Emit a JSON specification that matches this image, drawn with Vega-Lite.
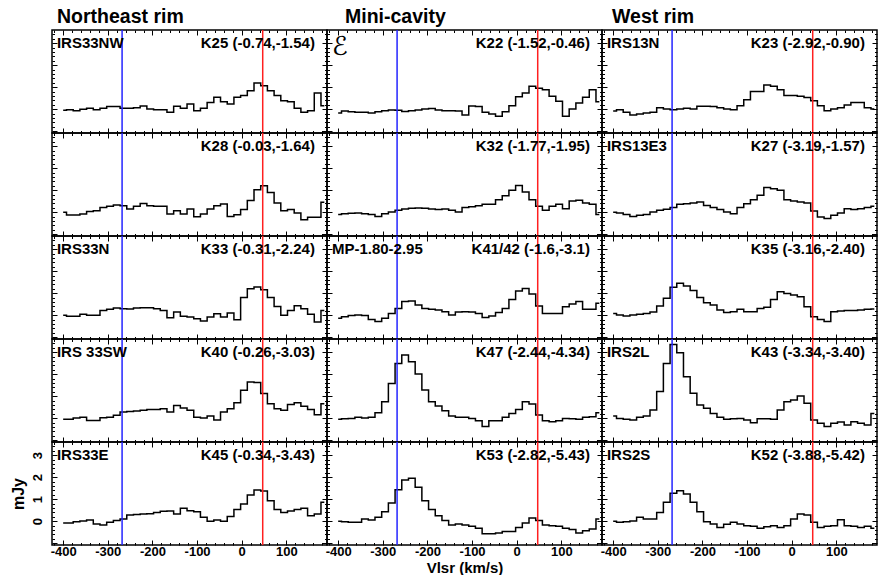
{
"$schema": "https://vega.github.io/schema/vega-lite/v6.json",
"background": "white",
"padding": {"left": 9, "top": 6, "right": 5, "bottom": 0},
"config": {
 "font": "Liberation Sans",
 "view": {"stroke": "black", "strokeWidth": 1.5},
 "axis": {"domain": false, "grid": false, "tickColor": "black", "tickWidth": 1, "labelFont": "Liberation Sans", "labelFontWeight": "bold", "labelFontSize": 13, "labelColor": "black", "titleFont": "Liberation Sans", "titleFontWeight": "bold", "titleFontSize": 15, "titleColor": "black", "labelOverlap": false, "labelFlush": false, "labelBound": false},
 "title": {"font": "Liberation Sans", "fontSize": 19.5, "fontWeight": "bold", "color": "black", "anchor": "start", "frame": "group", "baseline": "alphabetic", "offset": 2},
 "text": {"font": "Liberation Sans", "fontSize": 15, "fontWeight": "bold", "color": "black", "baseline": "alphabetic"}
},
"datasets": {"sp": [
{"p":"K25","v":-400,"f":-0.05},{"p":"K25","v":-385,"f":-0.02},{"p":"K25","v":-370,"f":-0.07},{"p":"K25","v":-355,"f":0},{"p":"K25","v":-340,"f":0.04},{"p":"K25","v":-325,"f":-0.02},{"p":"K25","v":-310,"f":0.04},{"p":"K25","v":-295,"f":0.12},{"p":"K25","v":-280,"f":0.12},{"p":"K25","v":-265,"f":0.04},
{"p":"K25","v":-250,"f":0.04},{"p":"K25","v":-235,"f":0.07},{"p":"K25","v":-220,"f":0.15},{"p":"K25","v":-205,"f":0.01},{"p":"K25","v":-190,"f":-0.02},{"p":"K25","v":-175,"f":-0.02},{"p":"K25","v":-160,"f":-0.14},{"p":"K25","v":-145,"f":0.13},{"p":"K25","v":-130,"f":0.04},{"p":"K25","v":-115,"f":0.24},
{"p":"K25","v":-100,"f":-0.07},{"p":"K25","v":-85,"f":0.04},{"p":"K25","v":-70,"f":0.31},{"p":"K25","v":-55,"f":0.54},{"p":"K25","v":-40,"f":0.34},{"p":"K25","v":-25,"f":0.24},{"p":"K25","v":-10,"f":0.54},{"p":"K25","v":5,"f":0.62},{"p":"K25","v":20,"f":0.84},{"p":"K25","v":35,"f":1.19},
{"p":"K25","v":50,"f":1.07},{"p":"K25","v":65,"f":0.84},{"p":"K25","v":80,"f":0.62},{"p":"K25","v":95,"f":0.39},{"p":"K25","v":110,"f":0.34},{"p":"K25","v":125,"f":0.04},{"p":"K25","v":140,"f":-0.14},{"p":"K25","v":155,"f":-0.07},{"p":"K25","v":170,"f":0.74},{"p":"K25","v":185,"f":0.16},
{"p":"K28","v":-400,"f":0},{"p":"K28","v":-385,"f":-0.13},{"p":"K28","v":-370,"f":-0.13},{"p":"K28","v":-355,"f":-0.08},{"p":"K28","v":-340,"f":0.03},{"p":"K28","v":-325,"f":0.07},{"p":"K28","v":-310,"f":0.22},{"p":"K28","v":-295,"f":0.27},{"p":"K28","v":-280,"f":0.33},{"p":"K28","v":-265,"f":0.3},
{"p":"K28","v":-250,"f":0.15},{"p":"K28","v":-235,"f":0.27},{"p":"K28","v":-220,"f":0.4},{"p":"K28","v":-205,"f":0.3},{"p":"K28","v":-190,"f":0.27},{"p":"K28","v":-175,"f":0.27},{"p":"K28","v":-160,"f":-0.08},{"p":"K28","v":-145,"f":0.07},{"p":"K28","v":-130,"f":-0.08},{"p":"K28","v":-115,"f":0.15},
{"p":"K28","v":-100,"f":-0.2},{"p":"K28","v":-85,"f":-0.08},{"p":"K28","v":-70,"f":0.15},{"p":"K28","v":-55,"f":0.3},{"p":"K28","v":-40,"f":0.37},{"p":"K28","v":-25,"f":-0.19},{"p":"K28","v":-10,"f":-0.11},{"p":"K28","v":5,"f":0.12},{"p":"K28","v":20,"f":0.53},{"p":"K28","v":35,"f":1.02},
{"p":"K28","v":50,"f":1.2},{"p":"K28","v":65,"f":0.9},{"p":"K28","v":80,"f":0.42},{"p":"K28","v":95,"f":0.07},{"p":"K28","v":110,"f":0.12},{"p":"K28","v":125,"f":-0.03},{"p":"K28","v":140,"f":-0.34},{"p":"K28","v":155,"f":-0.23},{"p":"K28","v":170,"f":-0.23},{"p":"K28","v":185,"f":0.45},
{"p":"K33","v":-400,"f":0},{"p":"K33","v":-385,"f":-0.05},{"p":"K33","v":-370,"f":-0.05},{"p":"K33","v":-355,"f":0.04},{"p":"K33","v":-340,"f":0},{"p":"K33","v":-325,"f":0},{"p":"K33","v":-310,"f":0.22},{"p":"K33","v":-295,"f":0.27},{"p":"K33","v":-280,"f":0.33},{"p":"K33","v":-265,"f":0.3},
{"p":"K33","v":-250,"f":0.28},{"p":"K33","v":-235,"f":0.33},{"p":"K33","v":-220,"f":0.34},{"p":"K33","v":-205,"f":0.34},{"p":"K33","v":-190,"f":0.3},{"p":"K33","v":-175,"f":0.22},{"p":"K33","v":-160,"f":-0.11},{"p":"K33","v":-145,"f":0.15},{"p":"K33","v":-130,"f":-0.05},{"p":"K33","v":-115,"f":-0.08},
{"p":"K33","v":-100,"f":-0.16},{"p":"K33","v":-85,"f":-0.26},{"p":"K33","v":-70,"f":-0.08},{"p":"K33","v":-55,"f":0.07},{"p":"K33","v":-40,"f":-0.08},{"p":"K33","v":-25,"f":0.1},{"p":"K33","v":-10,"f":-0.2},{"p":"K33","v":5,"f":0.8},{"p":"K33","v":20,"f":1.2},{"p":"K33","v":35,"f":1.28},
{"p":"K33","v":50,"f":1.16},{"p":"K33","v":65,"f":0.8},{"p":"K33","v":80,"f":0.4},{"p":"K33","v":95,"f":0},{"p":"K33","v":110,"f":0.22},{"p":"K33","v":125,"f":0.43},{"p":"K33","v":140,"f":0.3},{"p":"K33","v":155,"f":0.04},{"p":"K33","v":170,"f":-0.31},{"p":"K33","v":185,"f":0.22},
{"p":"K40","v":-400,"f":-0.05},{"p":"K40","v":-385,"f":-0.05},{"p":"K40","v":-370,"f":0.01},{"p":"K40","v":-355,"f":0.04},{"p":"K40","v":-340,"f":-0.1},{"p":"K40","v":-325,"f":-0.1},{"p":"K40","v":-310,"f":0.02},{"p":"K40","v":-295,"f":0.05},{"p":"K40","v":-280,"f":0.13},{"p":"K40","v":-265,"f":0.28},
{"p":"K40","v":-250,"f":0.31},{"p":"K40","v":-235,"f":0.33},{"p":"K40","v":-220,"f":0.36},{"p":"K40","v":-205,"f":0.4},{"p":"K40","v":-190,"f":0.4},{"p":"K40","v":-175,"f":0.43},{"p":"K40","v":-160,"f":0.28},{"p":"K40","v":-145,"f":0.58},{"p":"K40","v":-130,"f":0.46},{"p":"K40","v":-115,"f":0.36},
{"p":"K40","v":-100,"f":0.05},{"p":"K40","v":-85,"f":0.01},{"p":"K40","v":-70,"f":0.1},{"p":"K40","v":-55,"f":-0.08},{"p":"K40","v":-40,"f":0.28},{"p":"K40","v":-25,"f":0.43},{"p":"K40","v":-10,"f":0.7},{"p":"K40","v":5,"f":1.27},{"p":"K40","v":20,"f":1.65},{"p":"K40","v":35,"f":1.62},
{"p":"K40","v":50,"f":1.12},{"p":"K40","v":65,"f":0.66},{"p":"K40","v":80,"f":0.43},{"p":"K40","v":95,"f":0.36},{"p":"K40","v":110,"f":0.62},{"p":"K40","v":125,"f":0.7},{"p":"K40","v":140,"f":0.55},{"p":"K40","v":155,"f":0.4},{"p":"K40","v":170,"f":0.16},{"p":"K40","v":185,"f":0.66},
{"p":"K45","v":-400,"f":-0.08},{"p":"K45","v":-385,"f":-0.08},{"p":"K45","v":-370,"f":-0.02},{"p":"K45","v":-355,"f":0.01},{"p":"K45","v":-340,"f":0.06},{"p":"K45","v":-325,"f":-0.13},{"p":"K45","v":-310,"f":-0.17},{"p":"K45","v":-295,"f":-0.05},{"p":"K45","v":-280,"f":0.03},{"p":"K45","v":-265,"f":0.1},
{"p":"K45","v":-250,"f":0.28},{"p":"K45","v":-235,"f":0.31},{"p":"K45","v":-220,"f":0.33},{"p":"K45","v":-205,"f":0.34},{"p":"K45","v":-190,"f":0.4},{"p":"K45","v":-175,"f":0.45},{"p":"K45","v":-160,"f":0.47},{"p":"K45","v":-145,"f":0.33},{"p":"K45","v":-130,"f":0.59},{"p":"K45","v":-115,"f":0.48},
{"p":"K45","v":-100,"f":0.43},{"p":"K45","v":-85,"f":0.18},{"p":"K45","v":-70,"f":0},{"p":"K45","v":-55,"f":0.06},{"p":"K45","v":-40,"f":0},{"p":"K45","v":-25,"f":0.21},{"p":"K45","v":-10,"f":0.53},{"p":"K45","v":5,"f":0.78},{"p":"K45","v":20,"f":1.19},{"p":"K45","v":35,"f":1.42},
{"p":"K45","v":50,"f":1.37},{"p":"K45","v":65,"f":0.93},{"p":"K45","v":80,"f":0.53},{"p":"K45","v":95,"f":0.4},{"p":"K45","v":110,"f":0.47},{"p":"K45","v":125,"f":0.53},{"p":"K45","v":140,"f":0.59},{"p":"K45","v":155,"f":0.25},{"p":"K45","v":170,"f":0.33},{"p":"K45","v":185,"f":0.86},
{"p":"K22","v":-400,"f":-0.17},{"p":"K22","v":-385,"f":-0.08},{"p":"K22","v":-370,"f":-0.11},{"p":"K22","v":-355,"f":-0.14},{"p":"K22","v":-340,"f":-0.14},{"p":"K22","v":-325,"f":-0.17},{"p":"K22","v":-310,"f":-0.11},{"p":"K22","v":-295,"f":-0.07},{"p":"K22","v":-280,"f":-0.03},{"p":"K22","v":-265,"f":-0.05},
{"p":"K22","v":-250,"f":-0.1},{"p":"K22","v":-235,"f":-0.07},{"p":"K22","v":-220,"f":-0.03},{"p":"K22","v":-205,"f":0.01},{"p":"K22","v":-190,"f":0.03},{"p":"K22","v":-175,"f":-0.03},{"p":"K22","v":-160,"f":-0.07},{"p":"K22","v":-145,"f":-0.07},{"p":"K22","v":-130,"f":-0.08},{"p":"K22","v":-115,"f":-0.26},
{"p":"K22","v":-100,"f":0.15},{"p":"K22","v":-85,"f":0.12},{"p":"K22","v":-70,"f":-0.14},{"p":"K22","v":-55,"f":-0.22},{"p":"K22","v":-40,"f":-0.32},{"p":"K22","v":-25,"f":-0.11},{"p":"K22","v":-10,"f":0.16},{"p":"K22","v":5,"f":0.57},{"p":"K22","v":20,"f":0.74},{"p":"K22","v":35,"f":1.04},
{"p":"K22","v":50,"f":0.95},{"p":"K22","v":65,"f":0.89},{"p":"K22","v":80,"f":0.59},{"p":"K22","v":95,"f":0.36},{"p":"K22","v":110,"f":-0.32},{"p":"K22","v":125,"f":0.01},{"p":"K22","v":140,"f":0.28},{"p":"K22","v":155,"f":0.54},{"p":"K22","v":170,"f":0.89},{"p":"K22","v":185,"f":0.34},
{"p":"K32","v":-400,"f":-0.1},{"p":"K32","v":-385,"f":-0.07},{"p":"K32","v":-370,"f":-0.05},{"p":"K32","v":-355,"f":-0.03},{"p":"K32","v":-340,"f":-0.07},{"p":"K32","v":-325,"f":-0.1},{"p":"K32","v":-310,"f":-0.19},{"p":"K32","v":-295,"f":-0.07},{"p":"K32","v":-280,"f":0.01},{"p":"K32","v":-265,"f":0.09},
{"p":"K32","v":-250,"f":0.15},{"p":"K32","v":-235,"f":0.18},{"p":"K32","v":-220,"f":0.19},{"p":"K32","v":-205,"f":0.18},{"p":"K32","v":-190,"f":0.15},{"p":"K32","v":-175,"f":0.12},{"p":"K32","v":-160,"f":0.15},{"p":"K32","v":-145,"f":0.09},{"p":"K32","v":-130,"f":0.01},{"p":"K32","v":-115,"f":0.21},
{"p":"K32","v":-100,"f":0.25},{"p":"K32","v":-85,"f":0.3},{"p":"K32","v":-70,"f":0.36},{"p":"K32","v":-55,"f":0.36},{"p":"K32","v":-40,"f":0.57},{"p":"K32","v":-25,"f":0.75},{"p":"K32","v":-10,"f":1.0},{"p":"K32","v":5,"f":1.21},{"p":"K32","v":20,"f":0.92},{"p":"K32","v":35,"f":0.57},
{"p":"K32","v":50,"f":0.27},{"p":"K32","v":65,"f":0.09},{"p":"K32","v":80,"f":0.27},{"p":"K32","v":95,"f":0.36},{"p":"K32","v":110,"f":0.16},{"p":"K32","v":125,"f":0.51},{"p":"K32","v":140,"f":0.54},{"p":"K32","v":155,"f":0.42},{"p":"K32","v":170,"f":0.36},{"p":"K32","v":185,"f":-0.1},
{"p":"K41","v":-400,"f":-0.14},{"p":"K41","v":-385,"f":-0.07},{"p":"K41","v":-370,"f":-0.01},{"p":"K41","v":-355,"f":0.01},{"p":"K41","v":-340,"f":-0.01},{"p":"K41","v":-325,"f":-0.19},{"p":"K41","v":-310,"f":-0.29},{"p":"K41","v":-295,"f":-0.14},{"p":"K41","v":-280,"f":0.08},{"p":"K41","v":-265,"f":0.31},
{"p":"K41","v":-250,"f":0.62},{"p":"K41","v":-235,"f":0.65},{"p":"K41","v":-220,"f":0.46},{"p":"K41","v":-205,"f":0.31},{"p":"K41","v":-190,"f":0.27},{"p":"K41","v":-175,"f":0.24},{"p":"K41","v":-160,"f":0.16},{"p":"K41","v":-145,"f":0.01},{"p":"K41","v":-130,"f":0.15},{"p":"K41","v":-115,"f":0.16},
{"p":"K41","v":-100,"f":0.15},{"p":"K41","v":-85,"f":0.08},{"p":"K41","v":-70,"f":-0.1},{"p":"K41","v":-55,"f":-0.04},{"p":"K41","v":-40,"f":0.12},{"p":"K41","v":-25,"f":0.31},{"p":"K41","v":-10,"f":0.72},{"p":"K41","v":5,"f":1.1},{"p":"K41","v":20,"f":1.21},{"p":"K41","v":35,"f":0.96},
{"p":"K41","v":50,"f":0.42},{"p":"K41","v":65,"f":0.08},{"p":"K41","v":80,"f":0.08},{"p":"K41","v":95,"f":0.08},{"p":"K41","v":110,"f":0.39},{"p":"K41","v":125,"f":0.51},{"p":"K41","v":140,"f":0.62},{"p":"K41","v":155,"f":0.27},{"p":"K41","v":170,"f":0.27},{"p":"K41","v":185,"f":0.54},
{"p":"K47","v":-400,"f":-0.05},{"p":"K47","v":-385,"f":-0.02},{"p":"K47","v":-370,"f":-0.01},{"p":"K47","v":-355,"f":0.04},{"p":"K47","v":-340,"f":0.01},{"p":"K47","v":-325,"f":0.04},{"p":"K47","v":-310,"f":0.25},{"p":"K47","v":-295,"f":0.75},{"p":"K47","v":-280,"f":1.58},{"p":"K47","v":-265,"f":2.49},
{"p":"K47","v":-250,"f":2.87},{"p":"K47","v":-235,"f":2.57},{"p":"K47","v":-220,"f":2.01},{"p":"K47","v":-205,"f":1.28},{"p":"K47","v":-190,"f":0.75},{"p":"K47","v":-175,"f":0.56},{"p":"K47","v":-160,"f":0.34},{"p":"K47","v":-145,"f":0.1},{"p":"K47","v":-130,"f":0.04},{"p":"K47","v":-115,"f":0.04},
{"p":"K47","v":-100,"f":-0.01},{"p":"K47","v":-85,"f":-0.11},{"p":"K47","v":-70,"f":-0.38},{"p":"K47","v":-55,"f":-0.11},{"p":"K47","v":-40,"f":-0.11},{"p":"K47","v":-25,"f":0.04},{"p":"K47","v":-10,"f":0.22},{"p":"K47","v":5,"f":0.4},{"p":"K47","v":20,"f":0.75},{"p":"K47","v":35,"f":0.65},
{"p":"K47","v":50,"f":0.15},{"p":"K47","v":65,"f":-0.11},{"p":"K47","v":80,"f":-0.16},{"p":"K47","v":95,"f":-0.11},{"p":"K47","v":110,"f":-0.01},{"p":"K47","v":125,"f":-0.02},{"p":"K47","v":140,"f":-0.05},{"p":"K47","v":155,"f":0.04},{"p":"K47","v":170,"f":0.07},{"p":"K47","v":185,"f":0.25},
{"p":"K53","v":-400,"f":0},{"p":"K53","v":-385,"f":-0.02},{"p":"K53","v":-370,"f":-0.05},{"p":"K53","v":-355,"f":-0.05},{"p":"K53","v":-340,"f":0.1},{"p":"K53","v":-325,"f":0.06},{"p":"K53","v":-310,"f":0.18},{"p":"K53","v":-295,"f":0.43},{"p":"K53","v":-280,"f":0.83},{"p":"K53","v":-265,"f":1.43},
{"p":"K53","v":-250,"f":1.87},{"p":"K53","v":-235,"f":1.95},{"p":"K53","v":-220,"f":1.54},{"p":"K53","v":-205,"f":0.93},{"p":"K53","v":-190,"f":0.53},{"p":"K53","v":-175,"f":0.25},{"p":"K53","v":-160,"f":0.03},{"p":"K53","v":-145,"f":-0.17},{"p":"K53","v":-130,"f":-0.13},{"p":"K53","v":-115,"f":-0.17},
{"p":"K53","v":-100,"f":-0.23},{"p":"K53","v":-85,"f":-0.32},{"p":"K53","v":-70,"f":-0.57},{"p":"K53","v":-55,"f":-0.57},{"p":"K53","v":-40,"f":-0.53},{"p":"K53","v":-25,"f":-0.47},{"p":"K53","v":-10,"f":-0.47},{"p":"K53","v":5,"f":-0.28},{"p":"K53","v":20,"f":-0.08},{"p":"K53","v":35,"f":0.15},
{"p":"K53","v":50,"f":0.03},{"p":"K53","v":65,"f":-0.17},{"p":"K53","v":80,"f":-0.2},{"p":"K53","v":95,"f":-0.23},{"p":"K53","v":110,"f":-0.32},{"p":"K53","v":125,"f":-0.38},{"p":"K53","v":140,"f":-0.53},{"p":"K53","v":155,"f":-0.43},{"p":"K53","v":170,"f":-0.35},{"p":"K53","v":185,"f":0.1},
{"p":"K23","v":-400,"f":-0.08},{"p":"K23","v":-385,"f":-0.02},{"p":"K23","v":-370,"f":-0.14},{"p":"K23","v":-355,"f":-0.26},{"p":"K23","v":-340,"f":-0.22},{"p":"K23","v":-325,"f":-0.17},{"p":"K23","v":-310,"f":-0.14},{"p":"K23","v":-295,"f":0.07},{"p":"K23","v":-280,"f":0.01},{"p":"K23","v":-265,"f":-0.02},
{"p":"K23","v":-250,"f":0.01},{"p":"K23","v":-235,"f":0.04},{"p":"K23","v":-220,"f":0.01},{"p":"K23","v":-205,"f":0.13},{"p":"K23","v":-190,"f":0.13},{"p":"K23","v":-175,"f":0.12},{"p":"K23","v":-160,"f":0.07},{"p":"K23","v":-145,"f":0.01},{"p":"K23","v":-130,"f":-0.02},{"p":"K23","v":-115,"f":0.16},
{"p":"K23","v":-100,"f":0.43},{"p":"K23","v":-85,"f":0.8},{"p":"K23","v":-70,"f":0.8},{"p":"K23","v":-55,"f":1.1},{"p":"K23","v":-40,"f":1.04},{"p":"K23","v":-25,"f":0.89},{"p":"K23","v":-10,"f":0.62},{"p":"K23","v":5,"f":0.62},{"p":"K23","v":20,"f":0.59},{"p":"K23","v":35,"f":0.53},
{"p":"K23","v":50,"f":0.39},{"p":"K23","v":65,"f":0.16},{"p":"K23","v":80,"f":-0.07},{"p":"K23","v":95,"f":0.01},{"p":"K23","v":110,"f":0.07},{"p":"K23","v":125,"f":0.19},{"p":"K23","v":140,"f":0.31},{"p":"K23","v":155,"f":0.31},{"p":"K23","v":170,"f":0.07},{"p":"K23","v":185,"f":0.01},
{"p":"K27","v":-400,"f":0},{"p":"K27","v":-385,"f":-0.03},{"p":"K27","v":-370,"f":-0.1},{"p":"K27","v":-355,"f":-0.19},{"p":"K27","v":-340,"f":-0.14},{"p":"K27","v":-325,"f":-0.1},{"p":"K27","v":-310,"f":0.01},{"p":"K27","v":-295,"f":0.09},{"p":"K27","v":-280,"f":0.13},{"p":"K27","v":-265,"f":0.21},
{"p":"K27","v":-250,"f":0.36},{"p":"K27","v":-235,"f":0.39},{"p":"K27","v":-220,"f":0.42},{"p":"K27","v":-205,"f":0.47},{"p":"K27","v":-190,"f":0.31},{"p":"K27","v":-175,"f":0.21},{"p":"K27","v":-160,"f":0.12},{"p":"K27","v":-145,"f":0.01},{"p":"K27","v":-130,"f":-0.07},{"p":"K27","v":-115,"f":0.21},
{"p":"K27","v":-100,"f":0.39},{"p":"K27","v":-85,"f":0.57},{"p":"K27","v":-70,"f":0.77},{"p":"K27","v":-55,"f":1.12},{"p":"K27","v":-40,"f":1.07},{"p":"K27","v":-25,"f":1.0},{"p":"K27","v":-10,"f":0.57},{"p":"K27","v":5,"f":0.51},{"p":"K27","v":20,"f":0.47},{"p":"K27","v":35,"f":0.42},
{"p":"K27","v":50,"f":0.06},{"p":"K27","v":65,"f":-0.22},{"p":"K27","v":80,"f":-0.29},{"p":"K27","v":95,"f":-0.14},{"p":"K27","v":110,"f":-0.03},{"p":"K27","v":125,"f":0.16},{"p":"K27","v":140,"f":0.12},{"p":"K27","v":155,"f":0.16},{"p":"K27","v":170,"f":0.21},{"p":"K27","v":185,"f":0.27},
{"p":"K35","v":-400,"f":0.08},{"p":"K35","v":-385,"f":0.01},{"p":"K35","v":-370,"f":-0.04},{"p":"K35","v":-355,"f":0.01},{"p":"K35","v":-340,"f":0.04},{"p":"K35","v":-325,"f":0.08},{"p":"K35","v":-310,"f":0.15},{"p":"K35","v":-295,"f":0.42},{"p":"K35","v":-280,"f":0.77},{"p":"K35","v":-265,"f":1.27},
{"p":"K35","v":-250,"f":1.45},{"p":"K35","v":-235,"f":1.33},{"p":"K35","v":-220,"f":1.12},{"p":"K35","v":-205,"f":0.81},{"p":"K35","v":-190,"f":0.57},{"p":"K35","v":-175,"f":0.46},{"p":"K35","v":-160,"f":0.24},{"p":"K35","v":-145,"f":0.12},{"p":"K35","v":-130,"f":0.16},{"p":"K35","v":-115,"f":0.27},
{"p":"K35","v":-100,"f":0.16},{"p":"K35","v":-85,"f":0.16},{"p":"K35","v":-70,"f":0.31},{"p":"K35","v":-55,"f":0.36},{"p":"K35","v":-40,"f":0.72},{"p":"K35","v":-25,"f":1.07},{"p":"K35","v":-10,"f":0.99},{"p":"K35","v":5,"f":0.92},{"p":"K35","v":20,"f":0.84},{"p":"K35","v":35,"f":0.39},
{"p":"K35","v":50,"f":-0.07},{"p":"K35","v":65,"f":-0.19},{"p":"K35","v":80,"f":-0.29},{"p":"K35","v":95,"f":0.16},{"p":"K35","v":110,"f":0.19},{"p":"K35","v":125,"f":0.21},{"p":"K35","v":140,"f":0.22},{"p":"K35","v":155,"f":0.24},{"p":"K35","v":170,"f":0.27},{"p":"K35","v":185,"f":0.28},
{"p":"K43","v":-400,"f":0.1},{"p":"K43","v":-385,"f":-0.01},{"p":"K43","v":-370,"f":-0.05},{"p":"K43","v":-355,"f":-0.08},{"p":"K43","v":-340,"f":0.04},{"p":"K43","v":-325,"f":0.1},{"p":"K43","v":-310,"f":0.37},{"p":"K43","v":-295,"f":1.21},{"p":"K43","v":-280,"f":2.49},{"p":"K43","v":-265,"f":3.35},
{"p":"K43","v":-250,"f":2.98},{"p":"K43","v":-235,"f":1.89},{"p":"K43","v":-220,"f":1.13},{"p":"K43","v":-205,"f":0.6},{"p":"K43","v":-190,"f":0.45},{"p":"K43","v":-175,"f":0.22},{"p":"K43","v":-160,"f":0.04},{"p":"K43","v":-145,"f":-0.05},{"p":"K43","v":-130,"f":-0.02},{"p":"K43","v":-115,"f":-0.01},
{"p":"K43","v":-100,"f":-0.08},{"p":"K43","v":-85,"f":-0.2},{"p":"K43","v":-70,"f":-0.02},{"p":"K43","v":-55,"f":-0.02},{"p":"K43","v":-40,"f":-0.05},{"p":"K43","v":-25,"f":0.37},{"p":"K43","v":-10,"f":0.75},{"p":"K43","v":5,"f":0.83},{"p":"K43","v":20,"f":1.01},{"p":"K43","v":35,"f":0.68},
{"p":"K43","v":50,"f":-0.08},{"p":"K43","v":65,"f":-0.23},{"p":"K43","v":80,"f":-0.38},{"p":"K43","v":95,"f":-0.23},{"p":"K43","v":110,"f":-0.17},{"p":"K43","v":125,"f":-0.31},{"p":"K43","v":140,"f":-0.16},{"p":"K43","v":155,"f":-0.23},{"p":"K43","v":170,"f":-0.31},{"p":"K43","v":185,"f":0.22},
{"p":"K52","v":-400,"f":0},{"p":"K52","v":-385,"f":-0.05},{"p":"K52","v":-370,"f":-0.02},{"p":"K52","v":-355,"f":0.01},{"p":"K52","v":-340,"f":0.18},{"p":"K52","v":-325,"f":0.1},{"p":"K52","v":-310,"f":0.1},{"p":"K52","v":-295,"f":0.4},{"p":"K52","v":-280,"f":0.86},{"p":"K52","v":-265,"f":1.27},
{"p":"K52","v":-250,"f":1.39},{"p":"K52","v":-235,"f":1.24},{"p":"K52","v":-220,"f":0.86},{"p":"K52","v":-205,"f":0.43},{"p":"K52","v":-190,"f":-0.02},{"p":"K52","v":-175,"f":-0.13},{"p":"K52","v":-160,"f":-0.28},{"p":"K52","v":-145,"f":-0.14},{"p":"K52","v":-130,"f":-0.05},{"p":"K52","v":-115,"f":-0.13},
{"p":"K52","v":-100,"f":-0.2},{"p":"K52","v":-85,"f":-0.23},{"p":"K52","v":-70,"f":-0.32},{"p":"K52","v":-55,"f":-0.25},{"p":"K52","v":-40,"f":-0.2},{"p":"K52","v":-25,"f":-0.29},{"p":"K52","v":-10,"f":-0.2},{"p":"K52","v":5,"f":0.1},{"p":"K52","v":20,"f":0.33},{"p":"K52","v":35,"f":0.28},
{"p":"K52","v":50,"f":-0.05},{"p":"K52","v":65,"f":-0.28},{"p":"K52","v":80,"f":-0.23},{"p":"K52","v":95,"f":-0.2},{"p":"K52","v":110,"f":0.07},{"p":"K52","v":125,"f":-0.2},{"p":"K52","v":140,"f":-0.23},{"p":"K52","v":155,"f":-0.28},{"p":"K52","v":170,"f":-0.23},{"p":"K52","v":185,"f":-0.32}
]},
"columns": 3,
"spacing": 0,
"bounds": "flush",
"concat": [
 {"width": 275, "height": 103, "title": {"text": "Northeast rim", "dx": 5}, "resolve": {"axis": {"x": "independent", "y": "independent"}}, "layer": [
  {"data": {"name": "sp"}, "transform": [{"filter": "datum.p === 'K25'"}], "mark": {"type": "line", "interpolate": "step", "color": "black", "strokeWidth": 1.5, "clip": true}, "encoding": {"x": {"field": "v", "type": "quantitative", "scale": {"domain": [-425, 191], "nice": false, "zero": false}, "axis": {"orient": "bottom", "values": [-420,-400,-380,-360,-340,-320,-300,-280,-260,-240,-220,-200,-180,-160,-140,-120,-100,-80,-60,-40,-20,0,20,40,60,80,100,120,140,160,180], "labels": false, "title": null, "tickSize": {"condition": {"test": "datum.value % 100 === 0", "value": -5}, "value": -2.5}}}, "y": {"field": "f", "type": "quantitative", "scale": {"domain": [-1.08, 3.6], "nice": false, "zero": false}, "axis": {"orient": "left", "values": [-1,-0.8,-0.6,-0.4,-0.2,0,0.2,0.4,0.6,0.8,1,1.2,1.4,1.6,1.8,2,2.2,2.4,2.6,2.8,3,3.2,3.4], "labels": false, "title": null, "tickSize": {"condition": {"test": "abs(datum.value - round(datum.value)) < 0.01", "value": -5}, "value": -2.5}}}}},
  {"data": {"values": [{}]}, "mark": {"type": "rule", "color": "#2424ff", "strokeWidth": 1.5}, "encoding": {"x": {"datum": -268, "axis": null}}},
  {"data": {"values": [{}]}, "mark": {"type": "rule", "color": "#ff1f1f", "strokeWidth": 1.5}, "encoding": {"x": {"datum": 47, "axis": null}}},
  {"data": {"values": [{}]}, "mark": {"type": "text", "align": "right"}, "encoding": {"x": {"datum": 164, "axis": {"orient": "top", "values": [-420,-400,-380,-360,-340,-320,-300,-280,-260,-240,-220,-200,-180,-160,-140,-120,-100,-80,-60,-40,-20,0,20,40,60,80,100,120,140,160,180], "labels": false, "title": null, "tickSize": {"condition": {"test": "datum.value % 100 === 0", "value": -5}, "value": -2.5}}}, "y": {"datum": 2.8, "axis": {"orient": "right", "values": [-1,-0.8,-0.6,-0.4,-0.2,0,0.2,0.4,0.6,0.8,1,1.2,1.4,1.6,1.8,2,2.2,2.4,2.6,2.8,3,3.2,3.4], "labels": false, "title": null, "tickSize": {"condition": {"test": "abs(datum.value - round(datum.value)) < 0.01", "value": -5}, "value": -2.5}}}, "text": {"value": "K25 (-0.74,-1.54)"}}},
  {"data": {"values": [{}]}, "mark": {"type": "text", "align": "left"}, "encoding": {"x": {"datum": -414, "axis": null}, "y": {"datum": 2.8, "axis": null}, "text": {"value": "IRS33NW"}}}
 ]},
 {"width": 275, "height": 103, "title": {"text": "Mini-cavity", "dx": 18}, "resolve": {"axis": {"x": "independent", "y": "independent"}}, "layer": [
  {"data": {"name": "sp"}, "transform": [{"filter": "datum.p === 'K22'"}], "mark": {"type": "line", "interpolate": "step", "color": "black", "strokeWidth": 1.5, "clip": true}, "encoding": {"x": {"field": "v", "type": "quantitative", "scale": {"domain": [-425, 191], "nice": false, "zero": false}, "axis": {"orient": "bottom", "values": [-420,-400,-380,-360,-340,-320,-300,-280,-260,-240,-220,-200,-180,-160,-140,-120,-100,-80,-60,-40,-20,0,20,40,60,80,100,120,140,160,180], "labels": false, "title": null, "tickSize": {"condition": {"test": "datum.value % 100 === 0", "value": -5}, "value": -2.5}}}, "y": {"field": "f", "type": "quantitative", "scale": {"domain": [-1.08, 3.6], "nice": false, "zero": false}, "axis": {"orient": "left", "values": [-1,-0.8,-0.6,-0.4,-0.2,0,0.2,0.4,0.6,0.8,1,1.2,1.4,1.6,1.8,2,2.2,2.4,2.6,2.8,3,3.2,3.4], "labels": false, "title": null, "tickSize": {"condition": {"test": "abs(datum.value - round(datum.value)) < 0.01", "value": -5}, "value": -2.5}}}}},
  {"data": {"values": [{}]}, "mark": {"type": "rule", "color": "#2424ff", "strokeWidth": 1.5}, "encoding": {"x": {"datum": -268, "axis": null}}},
  {"data": {"values": [{}]}, "mark": {"type": "rule", "color": "#ff1f1f", "strokeWidth": 1.5}, "encoding": {"x": {"datum": 47, "axis": null}}},
  {"data": {"values": [{}]}, "mark": {"type": "text", "align": "right"}, "encoding": {"x": {"datum": 164, "axis": {"orient": "top", "values": [-420,-400,-380,-360,-340,-320,-300,-280,-260,-240,-220,-200,-180,-160,-140,-120,-100,-80,-60,-40,-20,0,20,40,60,80,100,120,140,160,180], "labels": false, "title": null, "tickSize": {"condition": {"test": "datum.value % 100 === 0", "value": -5}, "value": -2.5}}}, "y": {"datum": 2.8, "axis": {"orient": "right", "values": [-1,-0.8,-0.6,-0.4,-0.2,0,0.2,0.4,0.6,0.8,1,1.2,1.4,1.6,1.8,2,2.2,2.4,2.6,2.8,3,3.2,3.4], "labels": false, "title": null, "tickSize": {"condition": {"test": "abs(datum.value - round(datum.value)) < 0.01", "value": -5}, "value": -2.5}}}, "text": {"value": "K22 (-1.52,-0.46)"}}},
  {"data": {"values": [{}]}, "mark": {"type": "text", "align": "left", "font": "DejaVu Sans", "fontWeight": "normal", "fontSize": 26}, "encoding": {"x": {"datum": -414, "axis": null}, "y": {"datum": 2.45, "axis": null}, "text": {"value": "ℰ"}}}
 ]},
 {"width": 275, "height": 103, "title": {"text": "West rim", "dx": 10}, "resolve": {"axis": {"x": "independent", "y": "independent"}}, "layer": [
  {"data": {"name": "sp"}, "transform": [{"filter": "datum.p === 'K23'"}], "mark": {"type": "line", "interpolate": "step", "color": "black", "strokeWidth": 1.5, "clip": true}, "encoding": {"x": {"field": "v", "type": "quantitative", "scale": {"domain": [-425, 191], "nice": false, "zero": false}, "axis": {"orient": "bottom", "values": [-420,-400,-380,-360,-340,-320,-300,-280,-260,-240,-220,-200,-180,-160,-140,-120,-100,-80,-60,-40,-20,0,20,40,60,80,100,120,140,160,180], "labels": false, "title": null, "tickSize": {"condition": {"test": "datum.value % 100 === 0", "value": -5}, "value": -2.5}}}, "y": {"field": "f", "type": "quantitative", "scale": {"domain": [-1.08, 3.6], "nice": false, "zero": false}, "axis": {"orient": "left", "values": [-1,-0.8,-0.6,-0.4,-0.2,0,0.2,0.4,0.6,0.8,1,1.2,1.4,1.6,1.8,2,2.2,2.4,2.6,2.8,3,3.2,3.4], "labels": false, "title": null, "tickSize": {"condition": {"test": "abs(datum.value - round(datum.value)) < 0.01", "value": -5}, "value": -2.5}}}}},
  {"data": {"values": [{}]}, "mark": {"type": "rule", "color": "#2424ff", "strokeWidth": 1.5}, "encoding": {"x": {"datum": -268, "axis": null}}},
  {"data": {"values": [{}]}, "mark": {"type": "rule", "color": "#ff1f1f", "strokeWidth": 1.5}, "encoding": {"x": {"datum": 47, "axis": null}}},
  {"data": {"values": [{}]}, "mark": {"type": "text", "align": "right"}, "encoding": {"x": {"datum": 164, "axis": {"orient": "top", "values": [-420,-400,-380,-360,-340,-320,-300,-280,-260,-240,-220,-200,-180,-160,-140,-120,-100,-80,-60,-40,-20,0,20,40,60,80,100,120,140,160,180], "labels": false, "title": null, "tickSize": {"condition": {"test": "datum.value % 100 === 0", "value": -5}, "value": -2.5}}}, "y": {"datum": 2.8, "axis": {"orient": "right", "values": [-1,-0.8,-0.6,-0.4,-0.2,0,0.2,0.4,0.6,0.8,1,1.2,1.4,1.6,1.8,2,2.2,2.4,2.6,2.8,3,3.2,3.4], "labels": false, "title": null, "tickSize": {"condition": {"test": "abs(datum.value - round(datum.value)) < 0.01", "value": -5}, "value": -2.5}}}, "text": {"value": "K23 (-2.92,-0.90)"}}},
  {"data": {"values": [{}]}, "mark": {"type": "text", "align": "left"}, "encoding": {"x": {"datum": -414, "axis": null}, "y": {"datum": 2.8, "axis": null}, "text": {"value": "IRS13N"}}}
 ]},
 {"width": 275, "height": 103, "resolve": {"axis": {"x": "independent", "y": "independent"}}, "layer": [
  {"data": {"name": "sp"}, "transform": [{"filter": "datum.p === 'K28'"}], "mark": {"type": "line", "interpolate": "step", "color": "black", "strokeWidth": 1.5, "clip": true}, "encoding": {"x": {"field": "v", "type": "quantitative", "scale": {"domain": [-425, 191], "nice": false, "zero": false}, "axis": {"orient": "bottom", "values": [-420,-400,-380,-360,-340,-320,-300,-280,-260,-240,-220,-200,-180,-160,-140,-120,-100,-80,-60,-40,-20,0,20,40,60,80,100,120,140,160,180], "labels": false, "title": null, "tickSize": {"condition": {"test": "datum.value % 100 === 0", "value": -5}, "value": -2.5}}}, "y": {"field": "f", "type": "quantitative", "scale": {"domain": [-1.08, 3.6], "nice": false, "zero": false}, "axis": {"orient": "left", "values": [-1,-0.8,-0.6,-0.4,-0.2,0,0.2,0.4,0.6,0.8,1,1.2,1.4,1.6,1.8,2,2.2,2.4,2.6,2.8,3,3.2,3.4], "labels": false, "title": null, "tickSize": {"condition": {"test": "abs(datum.value - round(datum.value)) < 0.01", "value": -5}, "value": -2.5}}}}},
  {"data": {"values": [{}]}, "mark": {"type": "rule", "color": "#2424ff", "strokeWidth": 1.5}, "encoding": {"x": {"datum": -268, "axis": null}}},
  {"data": {"values": [{}]}, "mark": {"type": "rule", "color": "#ff1f1f", "strokeWidth": 1.5}, "encoding": {"x": {"datum": 47, "axis": null}}},
  {"data": {"values": [{}]}, "mark": {"type": "text", "align": "right"}, "encoding": {"x": {"datum": 164, "axis": {"orient": "top", "values": [-420,-400,-380,-360,-340,-320,-300,-280,-260,-240,-220,-200,-180,-160,-140,-120,-100,-80,-60,-40,-20,0,20,40,60,80,100,120,140,160,180], "labels": false, "title": null, "tickSize": {"condition": {"test": "datum.value % 100 === 0", "value": -5}, "value": -2.5}}}, "y": {"datum": 2.8, "axis": {"orient": "right", "values": [-1,-0.8,-0.6,-0.4,-0.2,0,0.2,0.4,0.6,0.8,1,1.2,1.4,1.6,1.8,2,2.2,2.4,2.6,2.8,3,3.2,3.4], "labels": false, "title": null, "tickSize": {"condition": {"test": "abs(datum.value - round(datum.value)) < 0.01", "value": -5}, "value": -2.5}}}, "text": {"value": "K28 (-0.03,-1.64)"}}}
 ]},
 {"width": 275, "height": 103, "resolve": {"axis": {"x": "independent", "y": "independent"}}, "layer": [
  {"data": {"name": "sp"}, "transform": [{"filter": "datum.p === 'K32'"}], "mark": {"type": "line", "interpolate": "step", "color": "black", "strokeWidth": 1.5, "clip": true}, "encoding": {"x": {"field": "v", "type": "quantitative", "scale": {"domain": [-425, 191], "nice": false, "zero": false}, "axis": {"orient": "bottom", "values": [-420,-400,-380,-360,-340,-320,-300,-280,-260,-240,-220,-200,-180,-160,-140,-120,-100,-80,-60,-40,-20,0,20,40,60,80,100,120,140,160,180], "labels": false, "title": null, "tickSize": {"condition": {"test": "datum.value % 100 === 0", "value": -5}, "value": -2.5}}}, "y": {"field": "f", "type": "quantitative", "scale": {"domain": [-1.08, 3.6], "nice": false, "zero": false}, "axis": {"orient": "left", "values": [-1,-0.8,-0.6,-0.4,-0.2,0,0.2,0.4,0.6,0.8,1,1.2,1.4,1.6,1.8,2,2.2,2.4,2.6,2.8,3,3.2,3.4], "labels": false, "title": null, "tickSize": {"condition": {"test": "abs(datum.value - round(datum.value)) < 0.01", "value": -5}, "value": -2.5}}}}},
  {"data": {"values": [{}]}, "mark": {"type": "rule", "color": "#2424ff", "strokeWidth": 1.5}, "encoding": {"x": {"datum": -268, "axis": null}}},
  {"data": {"values": [{}]}, "mark": {"type": "rule", "color": "#ff1f1f", "strokeWidth": 1.5}, "encoding": {"x": {"datum": 47, "axis": null}}},
  {"data": {"values": [{}]}, "mark": {"type": "text", "align": "right"}, "encoding": {"x": {"datum": 164, "axis": {"orient": "top", "values": [-420,-400,-380,-360,-340,-320,-300,-280,-260,-240,-220,-200,-180,-160,-140,-120,-100,-80,-60,-40,-20,0,20,40,60,80,100,120,140,160,180], "labels": false, "title": null, "tickSize": {"condition": {"test": "datum.value % 100 === 0", "value": -5}, "value": -2.5}}}, "y": {"datum": 2.8, "axis": {"orient": "right", "values": [-1,-0.8,-0.6,-0.4,-0.2,0,0.2,0.4,0.6,0.8,1,1.2,1.4,1.6,1.8,2,2.2,2.4,2.6,2.8,3,3.2,3.4], "labels": false, "title": null, "tickSize": {"condition": {"test": "abs(datum.value - round(datum.value)) < 0.01", "value": -5}, "value": -2.5}}}, "text": {"value": "K32 (-1.77,-1.95)"}}}
 ]},
 {"width": 275, "height": 103, "resolve": {"axis": {"x": "independent", "y": "independent"}}, "layer": [
  {"data": {"name": "sp"}, "transform": [{"filter": "datum.p === 'K27'"}], "mark": {"type": "line", "interpolate": "step", "color": "black", "strokeWidth": 1.5, "clip": true}, "encoding": {"x": {"field": "v", "type": "quantitative", "scale": {"domain": [-425, 191], "nice": false, "zero": false}, "axis": {"orient": "bottom", "values": [-420,-400,-380,-360,-340,-320,-300,-280,-260,-240,-220,-200,-180,-160,-140,-120,-100,-80,-60,-40,-20,0,20,40,60,80,100,120,140,160,180], "labels": false, "title": null, "tickSize": {"condition": {"test": "datum.value % 100 === 0", "value": -5}, "value": -2.5}}}, "y": {"field": "f", "type": "quantitative", "scale": {"domain": [-1.08, 3.6], "nice": false, "zero": false}, "axis": {"orient": "left", "values": [-1,-0.8,-0.6,-0.4,-0.2,0,0.2,0.4,0.6,0.8,1,1.2,1.4,1.6,1.8,2,2.2,2.4,2.6,2.8,3,3.2,3.4], "labels": false, "title": null, "tickSize": {"condition": {"test": "abs(datum.value - round(datum.value)) < 0.01", "value": -5}, "value": -2.5}}}}},
  {"data": {"values": [{}]}, "mark": {"type": "rule", "color": "#2424ff", "strokeWidth": 1.5}, "encoding": {"x": {"datum": -268, "axis": null}}},
  {"data": {"values": [{}]}, "mark": {"type": "rule", "color": "#ff1f1f", "strokeWidth": 1.5}, "encoding": {"x": {"datum": 47, "axis": null}}},
  {"data": {"values": [{}]}, "mark": {"type": "text", "align": "right"}, "encoding": {"x": {"datum": 164, "axis": {"orient": "top", "values": [-420,-400,-380,-360,-340,-320,-300,-280,-260,-240,-220,-200,-180,-160,-140,-120,-100,-80,-60,-40,-20,0,20,40,60,80,100,120,140,160,180], "labels": false, "title": null, "tickSize": {"condition": {"test": "datum.value % 100 === 0", "value": -5}, "value": -2.5}}}, "y": {"datum": 2.8, "axis": {"orient": "right", "values": [-1,-0.8,-0.6,-0.4,-0.2,0,0.2,0.4,0.6,0.8,1,1.2,1.4,1.6,1.8,2,2.2,2.4,2.6,2.8,3,3.2,3.4], "labels": false, "title": null, "tickSize": {"condition": {"test": "abs(datum.value - round(datum.value)) < 0.01", "value": -5}, "value": -2.5}}}, "text": {"value": "K27 (-3.19,-1.57)"}}},
  {"data": {"values": [{}]}, "mark": {"type": "text", "align": "left"}, "encoding": {"x": {"datum": -414, "axis": null}, "y": {"datum": 2.8, "axis": null}, "text": {"value": "IRS13E3"}}}
 ]},
 {"width": 275, "height": 103, "resolve": {"axis": {"x": "independent", "y": "independent"}}, "layer": [
  {"data": {"name": "sp"}, "transform": [{"filter": "datum.p === 'K33'"}], "mark": {"type": "line", "interpolate": "step", "color": "black", "strokeWidth": 1.5, "clip": true}, "encoding": {"x": {"field": "v", "type": "quantitative", "scale": {"domain": [-425, 191], "nice": false, "zero": false}, "axis": {"orient": "bottom", "values": [-420,-400,-380,-360,-340,-320,-300,-280,-260,-240,-220,-200,-180,-160,-140,-120,-100,-80,-60,-40,-20,0,20,40,60,80,100,120,140,160,180], "labels": false, "title": null, "tickSize": {"condition": {"test": "datum.value % 100 === 0", "value": -5}, "value": -2.5}}}, "y": {"field": "f", "type": "quantitative", "scale": {"domain": [-1.08, 3.6], "nice": false, "zero": false}, "axis": {"orient": "left", "values": [-1,-0.8,-0.6,-0.4,-0.2,0,0.2,0.4,0.6,0.8,1,1.2,1.4,1.6,1.8,2,2.2,2.4,2.6,2.8,3,3.2,3.4], "labels": false, "title": null, "tickSize": {"condition": {"test": "abs(datum.value - round(datum.value)) < 0.01", "value": -5}, "value": -2.5}}}}},
  {"data": {"values": [{}]}, "mark": {"type": "rule", "color": "#2424ff", "strokeWidth": 1.5}, "encoding": {"x": {"datum": -268, "axis": null}}},
  {"data": {"values": [{}]}, "mark": {"type": "rule", "color": "#ff1f1f", "strokeWidth": 1.5}, "encoding": {"x": {"datum": 47, "axis": null}}},
  {"data": {"values": [{}]}, "mark": {"type": "text", "align": "right"}, "encoding": {"x": {"datum": 164, "axis": {"orient": "top", "values": [-420,-400,-380,-360,-340,-320,-300,-280,-260,-240,-220,-200,-180,-160,-140,-120,-100,-80,-60,-40,-20,0,20,40,60,80,100,120,140,160,180], "labels": false, "title": null, "tickSize": {"condition": {"test": "datum.value % 100 === 0", "value": -5}, "value": -2.5}}}, "y": {"datum": 2.8, "axis": {"orient": "right", "values": [-1,-0.8,-0.6,-0.4,-0.2,0,0.2,0.4,0.6,0.8,1,1.2,1.4,1.6,1.8,2,2.2,2.4,2.6,2.8,3,3.2,3.4], "labels": false, "title": null, "tickSize": {"condition": {"test": "abs(datum.value - round(datum.value)) < 0.01", "value": -5}, "value": -2.5}}}, "text": {"value": "K33 (-0.31,-2.24)"}}},
  {"data": {"values": [{}]}, "mark": {"type": "text", "align": "left"}, "encoding": {"x": {"datum": -414, "axis": null}, "y": {"datum": 2.8, "axis": null}, "text": {"value": "IRS33N"}}}
 ]},
 {"width": 275, "height": 103, "resolve": {"axis": {"x": "independent", "y": "independent"}}, "layer": [
  {"data": {"name": "sp"}, "transform": [{"filter": "datum.p === 'K41'"}], "mark": {"type": "line", "interpolate": "step", "color": "black", "strokeWidth": 1.5, "clip": true}, "encoding": {"x": {"field": "v", "type": "quantitative", "scale": {"domain": [-425, 191], "nice": false, "zero": false}, "axis": {"orient": "bottom", "values": [-420,-400,-380,-360,-340,-320,-300,-280,-260,-240,-220,-200,-180,-160,-140,-120,-100,-80,-60,-40,-20,0,20,40,60,80,100,120,140,160,180], "labels": false, "title": null, "tickSize": {"condition": {"test": "datum.value % 100 === 0", "value": -5}, "value": -2.5}}}, "y": {"field": "f", "type": "quantitative", "scale": {"domain": [-1.08, 3.6], "nice": false, "zero": false}, "axis": {"orient": "left", "values": [-1,-0.8,-0.6,-0.4,-0.2,0,0.2,0.4,0.6,0.8,1,1.2,1.4,1.6,1.8,2,2.2,2.4,2.6,2.8,3,3.2,3.4], "labels": false, "title": null, "tickSize": {"condition": {"test": "abs(datum.value - round(datum.value)) < 0.01", "value": -5}, "value": -2.5}}}}},
  {"data": {"values": [{}]}, "mark": {"type": "rule", "color": "#2424ff", "strokeWidth": 1.5}, "encoding": {"x": {"datum": -268, "axis": null}}},
  {"data": {"values": [{}]}, "mark": {"type": "rule", "color": "#ff1f1f", "strokeWidth": 1.5}, "encoding": {"x": {"datum": 47, "axis": null}}},
  {"data": {"values": [{}]}, "mark": {"type": "text", "align": "right"}, "encoding": {"x": {"datum": 164, "axis": {"orient": "top", "values": [-420,-400,-380,-360,-340,-320,-300,-280,-260,-240,-220,-200,-180,-160,-140,-120,-100,-80,-60,-40,-20,0,20,40,60,80,100,120,140,160,180], "labels": false, "title": null, "tickSize": {"condition": {"test": "datum.value % 100 === 0", "value": -5}, "value": -2.5}}}, "y": {"datum": 2.8, "axis": {"orient": "right", "values": [-1,-0.8,-0.6,-0.4,-0.2,0,0.2,0.4,0.6,0.8,1,1.2,1.4,1.6,1.8,2,2.2,2.4,2.6,2.8,3,3.2,3.4], "labels": false, "title": null, "tickSize": {"condition": {"test": "abs(datum.value - round(datum.value)) < 0.01", "value": -5}, "value": -2.5}}}, "text": {"value": "K41/42 (-1.6,-3.1)"}}},
  {"data": {"values": [{}]}, "mark": {"type": "text", "align": "left"}, "encoding": {"x": {"datum": -414, "axis": null}, "y": {"datum": 2.8, "axis": null}, "text": {"value": "MP-1.80-2.95"}}}
 ]},
 {"width": 275, "height": 103, "resolve": {"axis": {"x": "independent", "y": "independent"}}, "layer": [
  {"data": {"name": "sp"}, "transform": [{"filter": "datum.p === 'K35'"}], "mark": {"type": "line", "interpolate": "step", "color": "black", "strokeWidth": 1.5, "clip": true}, "encoding": {"x": {"field": "v", "type": "quantitative", "scale": {"domain": [-425, 191], "nice": false, "zero": false}, "axis": {"orient": "bottom", "values": [-420,-400,-380,-360,-340,-320,-300,-280,-260,-240,-220,-200,-180,-160,-140,-120,-100,-80,-60,-40,-20,0,20,40,60,80,100,120,140,160,180], "labels": false, "title": null, "tickSize": {"condition": {"test": "datum.value % 100 === 0", "value": -5}, "value": -2.5}}}, "y": {"field": "f", "type": "quantitative", "scale": {"domain": [-1.08, 3.6], "nice": false, "zero": false}, "axis": {"orient": "left", "values": [-1,-0.8,-0.6,-0.4,-0.2,0,0.2,0.4,0.6,0.8,1,1.2,1.4,1.6,1.8,2,2.2,2.4,2.6,2.8,3,3.2,3.4], "labels": false, "title": null, "tickSize": {"condition": {"test": "abs(datum.value - round(datum.value)) < 0.01", "value": -5}, "value": -2.5}}}}},
  {"data": {"values": [{}]}, "mark": {"type": "rule", "color": "#2424ff", "strokeWidth": 1.5}, "encoding": {"x": {"datum": -268, "axis": null}}},
  {"data": {"values": [{}]}, "mark": {"type": "rule", "color": "#ff1f1f", "strokeWidth": 1.5}, "encoding": {"x": {"datum": 47, "axis": null}}},
  {"data": {"values": [{}]}, "mark": {"type": "text", "align": "right"}, "encoding": {"x": {"datum": 164, "axis": {"orient": "top", "values": [-420,-400,-380,-360,-340,-320,-300,-280,-260,-240,-220,-200,-180,-160,-140,-120,-100,-80,-60,-40,-20,0,20,40,60,80,100,120,140,160,180], "labels": false, "title": null, "tickSize": {"condition": {"test": "datum.value % 100 === 0", "value": -5}, "value": -2.5}}}, "y": {"datum": 2.8, "axis": {"orient": "right", "values": [-1,-0.8,-0.6,-0.4,-0.2,0,0.2,0.4,0.6,0.8,1,1.2,1.4,1.6,1.8,2,2.2,2.4,2.6,2.8,3,3.2,3.4], "labels": false, "title": null, "tickSize": {"condition": {"test": "abs(datum.value - round(datum.value)) < 0.01", "value": -5}, "value": -2.5}}}, "text": {"value": "K35 (-3.16,-2.40)"}}}
 ]},
 {"width": 275, "height": 103, "resolve": {"axis": {"x": "independent", "y": "independent"}}, "layer": [
  {"data": {"name": "sp"}, "transform": [{"filter": "datum.p === 'K40'"}], "mark": {"type": "line", "interpolate": "step", "color": "black", "strokeWidth": 1.5, "clip": true}, "encoding": {"x": {"field": "v", "type": "quantitative", "scale": {"domain": [-425, 191], "nice": false, "zero": false}, "axis": {"orient": "bottom", "values": [-420,-400,-380,-360,-340,-320,-300,-280,-260,-240,-220,-200,-180,-160,-140,-120,-100,-80,-60,-40,-20,0,20,40,60,80,100,120,140,160,180], "labels": false, "title": null, "tickSize": {"condition": {"test": "datum.value % 100 === 0", "value": -5}, "value": -2.5}}}, "y": {"field": "f", "type": "quantitative", "scale": {"domain": [-1.08, 3.6], "nice": false, "zero": false}, "axis": {"orient": "left", "values": [-1,-0.8,-0.6,-0.4,-0.2,0,0.2,0.4,0.6,0.8,1,1.2,1.4,1.6,1.8,2,2.2,2.4,2.6,2.8,3,3.2,3.4], "labels": false, "title": null, "tickSize": {"condition": {"test": "abs(datum.value - round(datum.value)) < 0.01", "value": -5}, "value": -2.5}}}}},
  {"data": {"values": [{}]}, "mark": {"type": "rule", "color": "#2424ff", "strokeWidth": 1.5}, "encoding": {"x": {"datum": -268, "axis": null}}},
  {"data": {"values": [{}]}, "mark": {"type": "rule", "color": "#ff1f1f", "strokeWidth": 1.5}, "encoding": {"x": {"datum": 47, "axis": null}}},
  {"data": {"values": [{}]}, "mark": {"type": "text", "align": "right"}, "encoding": {"x": {"datum": 164, "axis": {"orient": "top", "values": [-420,-400,-380,-360,-340,-320,-300,-280,-260,-240,-220,-200,-180,-160,-140,-120,-100,-80,-60,-40,-20,0,20,40,60,80,100,120,140,160,180], "labels": false, "title": null, "tickSize": {"condition": {"test": "datum.value % 100 === 0", "value": -5}, "value": -2.5}}}, "y": {"datum": 2.8, "axis": {"orient": "right", "values": [-1,-0.8,-0.6,-0.4,-0.2,0,0.2,0.4,0.6,0.8,1,1.2,1.4,1.6,1.8,2,2.2,2.4,2.6,2.8,3,3.2,3.4], "labels": false, "title": null, "tickSize": {"condition": {"test": "abs(datum.value - round(datum.value)) < 0.01", "value": -5}, "value": -2.5}}}, "text": {"value": "K40 (-0.26,-3.03)"}}},
  {"data": {"values": [{}]}, "mark": {"type": "text", "align": "left"}, "encoding": {"x": {"datum": -414, "axis": null}, "y": {"datum": 2.8, "axis": null}, "text": {"value": "IRS 33SW"}}}
 ]},
 {"width": 275, "height": 103, "resolve": {"axis": {"x": "independent", "y": "independent"}}, "layer": [
  {"data": {"name": "sp"}, "transform": [{"filter": "datum.p === 'K47'"}], "mark": {"type": "line", "interpolate": "step", "color": "black", "strokeWidth": 1.5, "clip": true}, "encoding": {"x": {"field": "v", "type": "quantitative", "scale": {"domain": [-425, 191], "nice": false, "zero": false}, "axis": {"orient": "bottom", "values": [-420,-400,-380,-360,-340,-320,-300,-280,-260,-240,-220,-200,-180,-160,-140,-120,-100,-80,-60,-40,-20,0,20,40,60,80,100,120,140,160,180], "labels": false, "title": null, "tickSize": {"condition": {"test": "datum.value % 100 === 0", "value": -5}, "value": -2.5}}}, "y": {"field": "f", "type": "quantitative", "scale": {"domain": [-1.08, 3.6], "nice": false, "zero": false}, "axis": {"orient": "left", "values": [-1,-0.8,-0.6,-0.4,-0.2,0,0.2,0.4,0.6,0.8,1,1.2,1.4,1.6,1.8,2,2.2,2.4,2.6,2.8,3,3.2,3.4], "labels": false, "title": null, "tickSize": {"condition": {"test": "abs(datum.value - round(datum.value)) < 0.01", "value": -5}, "value": -2.5}}}}},
  {"data": {"values": [{}]}, "mark": {"type": "rule", "color": "#2424ff", "strokeWidth": 1.5}, "encoding": {"x": {"datum": -268, "axis": null}}},
  {"data": {"values": [{}]}, "mark": {"type": "rule", "color": "#ff1f1f", "strokeWidth": 1.5}, "encoding": {"x": {"datum": 47, "axis": null}}},
  {"data": {"values": [{}]}, "mark": {"type": "text", "align": "right"}, "encoding": {"x": {"datum": 164, "axis": {"orient": "top", "values": [-420,-400,-380,-360,-340,-320,-300,-280,-260,-240,-220,-200,-180,-160,-140,-120,-100,-80,-60,-40,-20,0,20,40,60,80,100,120,140,160,180], "labels": false, "title": null, "tickSize": {"condition": {"test": "datum.value % 100 === 0", "value": -5}, "value": -2.5}}}, "y": {"datum": 2.8, "axis": {"orient": "right", "values": [-1,-0.8,-0.6,-0.4,-0.2,0,0.2,0.4,0.6,0.8,1,1.2,1.4,1.6,1.8,2,2.2,2.4,2.6,2.8,3,3.2,3.4], "labels": false, "title": null, "tickSize": {"condition": {"test": "abs(datum.value - round(datum.value)) < 0.01", "value": -5}, "value": -2.5}}}, "text": {"value": "K47 (-2.44,-4.34)"}}}
 ]},
 {"width": 275, "height": 103, "resolve": {"axis": {"x": "independent", "y": "independent"}}, "layer": [
  {"data": {"name": "sp"}, "transform": [{"filter": "datum.p === 'K43'"}], "mark": {"type": "line", "interpolate": "step", "color": "black", "strokeWidth": 1.5, "clip": true}, "encoding": {"x": {"field": "v", "type": "quantitative", "scale": {"domain": [-425, 191], "nice": false, "zero": false}, "axis": {"orient": "bottom", "values": [-420,-400,-380,-360,-340,-320,-300,-280,-260,-240,-220,-200,-180,-160,-140,-120,-100,-80,-60,-40,-20,0,20,40,60,80,100,120,140,160,180], "labels": false, "title": null, "tickSize": {"condition": {"test": "datum.value % 100 === 0", "value": -5}, "value": -2.5}}}, "y": {"field": "f", "type": "quantitative", "scale": {"domain": [-1.08, 3.6], "nice": false, "zero": false}, "axis": {"orient": "left", "values": [-1,-0.8,-0.6,-0.4,-0.2,0,0.2,0.4,0.6,0.8,1,1.2,1.4,1.6,1.8,2,2.2,2.4,2.6,2.8,3,3.2,3.4], "labels": false, "title": null, "tickSize": {"condition": {"test": "abs(datum.value - round(datum.value)) < 0.01", "value": -5}, "value": -2.5}}}}},
  {"data": {"values": [{}]}, "mark": {"type": "rule", "color": "#2424ff", "strokeWidth": 1.5}, "encoding": {"x": {"datum": -268, "axis": null}}},
  {"data": {"values": [{}]}, "mark": {"type": "rule", "color": "#ff1f1f", "strokeWidth": 1.5}, "encoding": {"x": {"datum": 47, "axis": null}}},
  {"data": {"values": [{}]}, "mark": {"type": "text", "align": "right"}, "encoding": {"x": {"datum": 164, "axis": {"orient": "top", "values": [-420,-400,-380,-360,-340,-320,-300,-280,-260,-240,-220,-200,-180,-160,-140,-120,-100,-80,-60,-40,-20,0,20,40,60,80,100,120,140,160,180], "labels": false, "title": null, "tickSize": {"condition": {"test": "datum.value % 100 === 0", "value": -5}, "value": -2.5}}}, "y": {"datum": 2.8, "axis": {"orient": "right", "values": [-1,-0.8,-0.6,-0.4,-0.2,0,0.2,0.4,0.6,0.8,1,1.2,1.4,1.6,1.8,2,2.2,2.4,2.6,2.8,3,3.2,3.4], "labels": false, "title": null, "tickSize": {"condition": {"test": "abs(datum.value - round(datum.value)) < 0.01", "value": -5}, "value": -2.5}}}, "text": {"value": "K43 (-3.34,-3.40)"}}},
  {"data": {"values": [{}]}, "mark": {"type": "text", "align": "left"}, "encoding": {"x": {"datum": -414, "axis": null}, "y": {"datum": 2.8, "axis": null}, "text": {"value": "IRS2L"}}}
 ]},
 {"width": 275, "height": 103, "resolve": {"axis": {"x": "independent", "y": "independent"}}, "layer": [
  {"data": {"name": "sp"}, "transform": [{"filter": "datum.p === 'K45'"}], "mark": {"type": "line", "interpolate": "step", "color": "black", "strokeWidth": 1.5, "clip": true}, "encoding": {"x": {"field": "v", "type": "quantitative", "scale": {"domain": [-425, 191], "nice": false, "zero": false}, "axis": {"orient": "bottom", "values": [-420,-400,-380,-360,-340,-320,-300,-280,-260,-240,-220,-200,-180,-160,-140,-120,-100,-80,-60,-40,-20,0,20,40,60,80,100,120,140,160,180], "labelExpr": "datum.value % 100 === 0 ? '' + datum.value : ''", "labelPadding": 5, "title": null, "tickSize": {"condition": {"test": "datum.value % 100 === 0", "value": -5}, "value": -2.5}}}, "y": {"field": "f", "type": "quantitative", "scale": {"domain": [-1.08, 3.6], "nice": false, "zero": false}, "axis": {"orient": "left", "values": [-1,-0.8,-0.6,-0.4,-0.2,0,0.2,0.4,0.6,0.8,1,1.2,1.4,1.6,1.8,2,2.2,2.4,2.6,2.8,3,3.2,3.4], "labelExpr": "(abs(datum.value - round(datum.value)) < 0.01 && datum.value >= 0) ? '' + round(datum.value) : ''", "labelAngle": -90, "labelPadding": 13, "title": "mJy", "titleFontSize": 16, "titlePadding": 2, "tickSize": {"condition": {"test": "abs(datum.value - round(datum.value)) < 0.01", "value": -5}, "value": -2.5}}}}},
  {"data": {"values": [{}]}, "mark": {"type": "rule", "color": "#2424ff", "strokeWidth": 1.5}, "encoding": {"x": {"datum": -268, "axis": null}}},
  {"data": {"values": [{}]}, "mark": {"type": "rule", "color": "#ff1f1f", "strokeWidth": 1.5}, "encoding": {"x": {"datum": 47, "axis": null}}},
  {"data": {"values": [{}]}, "mark": {"type": "text", "align": "right"}, "encoding": {"x": {"datum": 164, "axis": {"orient": "top", "values": [-420,-400,-380,-360,-340,-320,-300,-280,-260,-240,-220,-200,-180,-160,-140,-120,-100,-80,-60,-40,-20,0,20,40,60,80,100,120,140,160,180], "labels": false, "title": null, "tickSize": {"condition": {"test": "datum.value % 100 === 0", "value": -5}, "value": -2.5}}}, "y": {"datum": 2.8, "axis": {"orient": "right", "values": [-1,-0.8,-0.6,-0.4,-0.2,0,0.2,0.4,0.6,0.8,1,1.2,1.4,1.6,1.8,2,2.2,2.4,2.6,2.8,3,3.2,3.4], "labels": false, "title": null, "tickSize": {"condition": {"test": "abs(datum.value - round(datum.value)) < 0.01", "value": -5}, "value": -2.5}}}, "text": {"value": "K45 (-0.34,-3.43)"}}},
  {"data": {"values": [{}]}, "mark": {"type": "text", "align": "left"}, "encoding": {"x": {"datum": -414, "axis": null}, "y": {"datum": 2.8, "axis": null}, "text": {"value": "IRS33E"}}}
 ]},
 {"width": 275, "height": 103, "resolve": {"axis": {"x": "independent", "y": "independent"}}, "layer": [
  {"data": {"name": "sp"}, "transform": [{"filter": "datum.p === 'K53'"}], "mark": {"type": "line", "interpolate": "step", "color": "black", "strokeWidth": 1.5, "clip": true}, "encoding": {"x": {"field": "v", "type": "quantitative", "scale": {"domain": [-425, 191], "nice": false, "zero": false}, "axis": {"orient": "bottom", "values": [-420,-400,-380,-360,-340,-320,-300,-280,-260,-240,-220,-200,-180,-160,-140,-120,-100,-80,-60,-40,-20,0,20,40,60,80,100,120,140,160,180], "labelExpr": "datum.value % 100 === 0 ? '' + datum.value : ''", "labelPadding": 5, "title": "Vlsr (km/s)", "titlePadding": 0, "tickSize": {"condition": {"test": "datum.value % 100 === 0", "value": -5}, "value": -2.5}}}, "y": {"field": "f", "type": "quantitative", "scale": {"domain": [-1.08, 3.6], "nice": false, "zero": false}, "axis": {"orient": "left", "values": [-1,-0.8,-0.6,-0.4,-0.2,0,0.2,0.4,0.6,0.8,1,1.2,1.4,1.6,1.8,2,2.2,2.4,2.6,2.8,3,3.2,3.4], "labels": false, "title": null, "tickSize": {"condition": {"test": "abs(datum.value - round(datum.value)) < 0.01", "value": -5}, "value": -2.5}}}}},
  {"data": {"values": [{}]}, "mark": {"type": "rule", "color": "#2424ff", "strokeWidth": 1.5}, "encoding": {"x": {"datum": -268, "axis": null}}},
  {"data": {"values": [{}]}, "mark": {"type": "rule", "color": "#ff1f1f", "strokeWidth": 1.5}, "encoding": {"x": {"datum": 47, "axis": null}}},
  {"data": {"values": [{}]}, "mark": {"type": "text", "align": "right"}, "encoding": {"x": {"datum": 164, "axis": {"orient": "top", "values": [-420,-400,-380,-360,-340,-320,-300,-280,-260,-240,-220,-200,-180,-160,-140,-120,-100,-80,-60,-40,-20,0,20,40,60,80,100,120,140,160,180], "labels": false, "title": null, "tickSize": {"condition": {"test": "datum.value % 100 === 0", "value": -5}, "value": -2.5}}}, "y": {"datum": 2.8, "axis": {"orient": "right", "values": [-1,-0.8,-0.6,-0.4,-0.2,0,0.2,0.4,0.6,0.8,1,1.2,1.4,1.6,1.8,2,2.2,2.4,2.6,2.8,3,3.2,3.4], "labels": false, "title": null, "tickSize": {"condition": {"test": "abs(datum.value - round(datum.value)) < 0.01", "value": -5}, "value": -2.5}}}, "text": {"value": "K53 (-2.82,-5.43)"}}}
 ]},
 {"width": 275, "height": 103, "resolve": {"axis": {"x": "independent", "y": "independent"}}, "layer": [
  {"data": {"name": "sp"}, "transform": [{"filter": "datum.p === 'K52'"}], "mark": {"type": "line", "interpolate": "step", "color": "black", "strokeWidth": 1.5, "clip": true}, "encoding": {"x": {"field": "v", "type": "quantitative", "scale": {"domain": [-425, 191], "nice": false, "zero": false}, "axis": {"orient": "bottom", "values": [-420,-400,-380,-360,-340,-320,-300,-280,-260,-240,-220,-200,-180,-160,-140,-120,-100,-80,-60,-40,-20,0,20,40,60,80,100,120,140,160,180], "labelExpr": "datum.value % 100 === 0 ? '' + datum.value : ''", "labelPadding": 5, "title": null, "tickSize": {"condition": {"test": "datum.value % 100 === 0", "value": -5}, "value": -2.5}}}, "y": {"field": "f", "type": "quantitative", "scale": {"domain": [-1.08, 3.6], "nice": false, "zero": false}, "axis": {"orient": "left", "values": [-1,-0.8,-0.6,-0.4,-0.2,0,0.2,0.4,0.6,0.8,1,1.2,1.4,1.6,1.8,2,2.2,2.4,2.6,2.8,3,3.2,3.4], "labels": false, "title": null, "tickSize": {"condition": {"test": "abs(datum.value - round(datum.value)) < 0.01", "value": -5}, "value": -2.5}}}}},
  {"data": {"values": [{}]}, "mark": {"type": "rule", "color": "#2424ff", "strokeWidth": 1.5}, "encoding": {"x": {"datum": -268, "axis": null}}},
  {"data": {"values": [{}]}, "mark": {"type": "rule", "color": "#ff1f1f", "strokeWidth": 1.5}, "encoding": {"x": {"datum": 47, "axis": null}}},
  {"data": {"values": [{}]}, "mark": {"type": "text", "align": "right"}, "encoding": {"x": {"datum": 164, "axis": {"orient": "top", "values": [-420,-400,-380,-360,-340,-320,-300,-280,-260,-240,-220,-200,-180,-160,-140,-120,-100,-80,-60,-40,-20,0,20,40,60,80,100,120,140,160,180], "labels": false, "title": null, "tickSize": {"condition": {"test": "datum.value % 100 === 0", "value": -5}, "value": -2.5}}}, "y": {"datum": 2.8, "axis": {"orient": "right", "values": [-1,-0.8,-0.6,-0.4,-0.2,0,0.2,0.4,0.6,0.8,1,1.2,1.4,1.6,1.8,2,2.2,2.4,2.6,2.8,3,3.2,3.4], "labels": false, "title": null, "tickSize": {"condition": {"test": "abs(datum.value - round(datum.value)) < 0.01", "value": -5}, "value": -2.5}}}, "text": {"value": "K52 (-3.88,-5.42)"}}},
  {"data": {"values": [{}]}, "mark": {"type": "text", "align": "left"}, "encoding": {"x": {"datum": -414, "axis": null}, "y": {"datum": 2.8, "axis": null}, "text": {"value": "IRS2S"}}}
 ]}
]
}
